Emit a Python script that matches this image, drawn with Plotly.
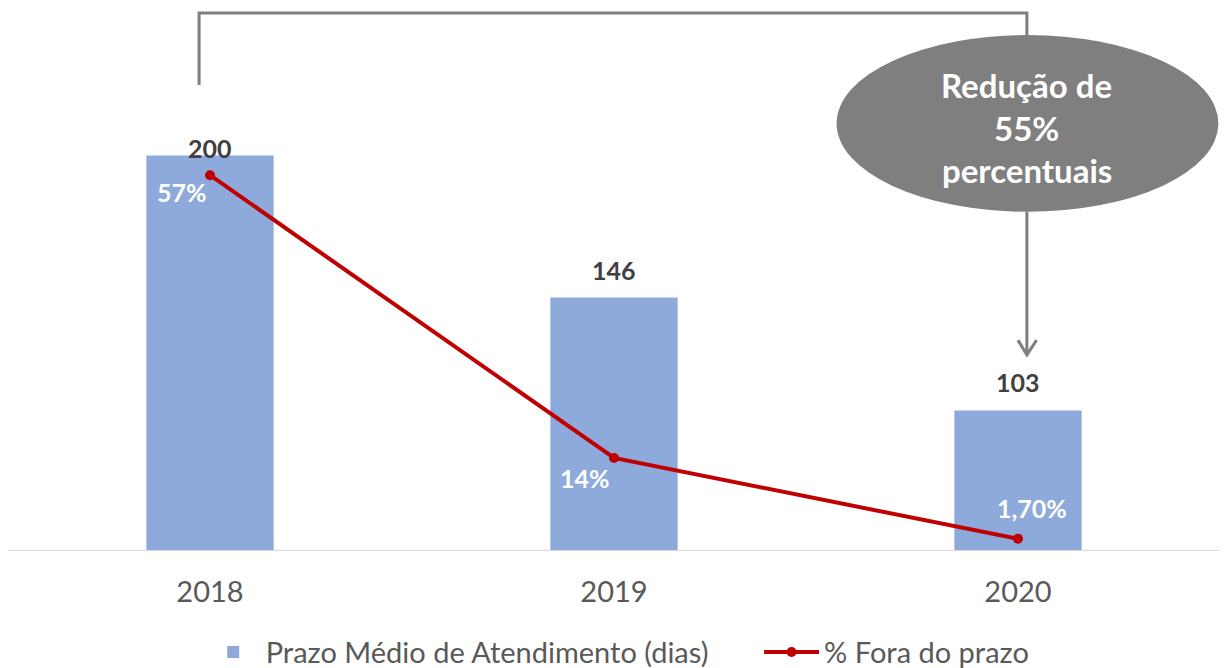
import plotly.graph_objects as go

# ---- data ----
years = ["2018", "2019", "2020"]
prazo_medio = [200, 146, 103]                 # Prazo Médio de Atendimento (dias)
fora_prazo = [0.57, 0.14, 0.017]              # % Fora do prazo
fora_prazo_labels = ["57%", "14%", "1,70%"]
bar_labels = ["200", "146", "103"]
callout_lines = ["Redução de", "55%", "percentuais"]

x_idx = list(range(len(years)))

BAR = "#8EA9DB"
RED = "#C00000"
GRAY = "#7F7F7F"
TXT = "#595959"
FONT = "Lato"

# label offsets (style only, in px)
bar_label_shift = [8, 28, 29]
line_label_shift = [(-28, -17), (-29, -20), (14, 31)]

fig = go.Figure()

fig.add_trace(go.Bar(
    x=x_idx, y=prazo_medio, name="Prazo Médio de Atendimento (dias)",
    marker=dict(color=BAR, line=dict(width=0)), width=0.315,
    legend="legend",
))

fig.add_trace(go.Scatter(
    x=x_idx, y=fora_prazo, name="% Fora do prazo", yaxis="y2",
    mode="lines+markers",
    line=dict(color=RED, width=4),
    marker=dict(color=RED, size=10),
    cliponaxis=False, legend="legend2",
))

for xi, v, t, s in zip(x_idx, prazo_medio, bar_labels, bar_label_shift):
    fig.add_annotation(x=xi, y=v, xref="x", yref="y", text=f"<b>{t}</b>",
                       showarrow=False, yanchor="middle", yshift=s,
                       font=dict(family=FONT, size=25, color="#404040"))

for xi, v, t, (dx, dy) in zip(x_idx, fora_prazo, fora_prazo_labels, line_label_shift):
    fig.add_annotation(x=xi, y=v, xref="x", yref="y2", text=f"<b>{t}</b>",
                       showarrow=False, xanchor="center", yanchor="middle",
                       xshift=dx, yshift=dy,
                       font=dict(family=FONT, size=25, color="white"))

# ---- callout decoration ----
L = dict(color=GRAY, width=3)
fig.add_shape(type="path", xref="x", yref="paper",
              path="M -0.027 0.884 L -0.027 1.021 L 2.022 1.021 L 2.022 0.979",
              line=L)
fig.add_shape(type="circle", xref="x", yref="paper",
              x0=1.551, x1=2.496, y0=0.643, y1=0.979,
              fillcolor=GRAY, line=dict(width=0))
fig.add_shape(type="line", xref="x", yref="paper",
              x0=2.022, x1=2.022, y0=0.643, y1=0.371, line=L)
fig.add_shape(type="path", xref="x", yref="paper",
              path="M 2.0 0.399 L 2.022 0.371 L 2.046 0.399", line=L)

for line, yy in zip(callout_lines, [0.884, 0.802, 0.722]):
    fig.add_annotation(x=2.022, xref="x", y=yy, yref="paper", text=f"<b>{line}</b>",
                       showarrow=False, xanchor="center", yanchor="middle",
                       font=dict(family=FONT, size=33, color="white"))

leg_common = dict(orientation="h", xanchor="left", y=0.024, yref="container",
                  yanchor="middle", font=dict(family=FONT, size=29, color=TXT),
                  itemwidth=55, bgcolor="rgba(0,0,0,0)")

fig.update_layout(
    width=1219, height=660,
    margin=dict(l=0, r=7, t=16, b=118, autoexpand=False),
    plot_bgcolor="white", paper_bgcolor="white",
    xaxis=dict(tickvals=x_idx, ticktext=years, range=[-0.5, 2.5],
               showline=True, linecolor="#D9D9D9", linewidth=1,
               showgrid=False, zeroline=False, ticks="",
               ticklabelstandoff=16, automargin=False,
               tickfont=dict(family=FONT, size=29, color=TXT)),
    yaxis=dict(range=[50, 250], visible=False),
    yaxis2=dict(range=[0, 0.8], overlaying="y", visible=False),
    legend=dict(x=0.159, **leg_common),
    legend2=dict(x=0.6197, **leg_common),
    showlegend=True,
)

fig.write_html("out.html")
